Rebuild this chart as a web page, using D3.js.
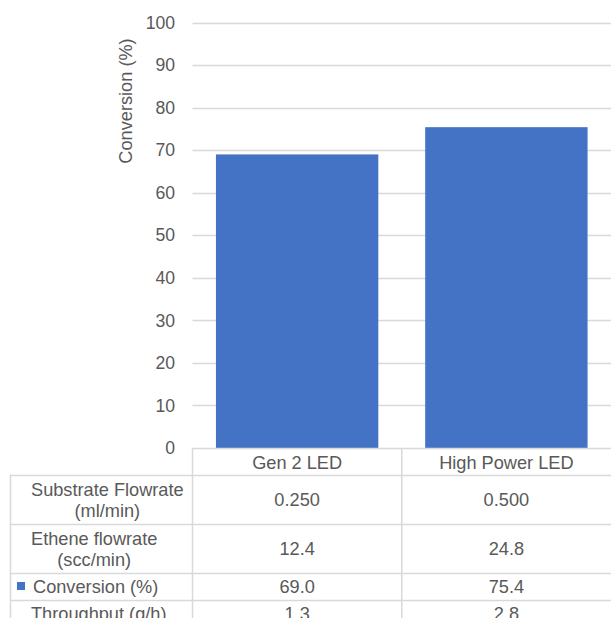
<!DOCTYPE html>
<html>
<head>
<meta charset="utf-8">
<script src="https://cdn.jsdelivr.net/npm/d3@7"></script>
<style>
  body { margin: 0; background: #fff; }
  text { font-family: "Liberation Sans", Arial, sans-serif; fill: #595959; }
</style>
</head>
<body>
<svg id="chart" width="611" height="618"></svg>
<script>
// chart data
var categories = ["Gen 2 LED", "High Power LED"];
var conversion = [69.0, 75.4];
var substrateFlow = [0.250, 0.500];
var etheneFlow = [12.4, 24.8];
var throughput = [1.3, 2.8];
var yTicks = [0, 10, 20, 30, 40, 50, 60, 70, 80, 90, 100];

// data table rows (label lines, values, format)
var tableRows = [
  { label: ["Substrate Flowrate", "(ml/min)"], values: substrateFlow, fmt: d3.format(".3f") },
  { label: ["Ethene flowrate", "(scc/min)"], values: etheneFlow, fmt: d3.format(".1f") },
  { label: ["Conversion (%)"], values: conversion, fmt: d3.format(".1f"), key: true },
  { label: ["Throughput (g/h)"], values: throughput, fmt: d3.format(".1f") }
];

var W = 611, H = 618;
var plotLeft = 192.5, plotRight = 611, plotTop = 22.5, plotBottom = 448;
var tableLeft = 10.5;
var barColor = "#4472c4", lineColor = "#d9d9d9";

var svg = d3.select("#chart");

var x = d3.scaleBand().domain(categories).range([plotLeft, plotRight])
  .paddingInner(0.224).paddingOuter(0.112);
var y = d3.scaleLinear().domain([0, 100]).range([plotBottom, plotTop]);

// gridlines
svg.append("g").selectAll("line")
  .data(yTicks.filter(function(d) { return d > 0; }))
  .enter().append("line")
  .attr("x1", plotLeft).attr("x2", plotRight)
  .attr("y1", function(d) { return Math.round(y(d)) + 0.5; })
  .attr("y2", function(d) { return Math.round(y(d)) + 0.5; })
  .attr("stroke", lineColor).attr("stroke-width", 1.3);

// tick labels
svg.append("g").selectAll("text")
  .data(yTicks)
  .enter().append("text")
  .attr("x", 175)
  .attr("y", function(d) { return y(d); })
  .attr("dy", "0.35em")
  .attr("text-anchor", "end")
  .attr("font-size", 17.6)
  .text(function(d) { return d; });

// axis title
svg.append("text")
  .attr("transform", "translate(132,101) rotate(-90)")
  .attr("text-anchor", "middle")
  .attr("font-size", 18.2)
  .text("Conversion (%)");

// bars
svg.append("g").selectAll("rect")
  .data(categories)
  .enter().append("rect")
  .attr("x", function(d) { return x(d); })
  .attr("width", x.bandwidth())
  .attr("y", function(d, i) { return y(conversion[i]); })
  .attr("height", function(d, i) { return y(0) - y(conversion[i]); })
  .attr("fill", barColor);

// data table
var table = svg.append("g");
var headerH = 26.5;
var rowY = [plotBottom + headerH];
tableRows.forEach(function(r) {
  rowY.push(rowY[rowY.length - 1] + (r.label.length > 1 ? 49 : 27));
});

function hline(x1, x2, yy) {
  table.append("line").attr("x1", x1).attr("x2", x2)
    .attr("y1", Math.round(yy) + 0.5).attr("y2", Math.round(yy) + 0.5)
    .attr("stroke", lineColor).attr("stroke-width", 1.5);
}
function vline(xx, y1, y2) {
  table.append("line").attr("x1", xx).attr("x2", xx)
    .attr("y1", y1).attr("y2", y2)
    .attr("stroke", lineColor).attr("stroke-width", 1.5);
}

hline(plotLeft, plotRight, plotBottom);
rowY.forEach(function(yy) { hline(tableLeft, plotRight, yy); });
vline(tableLeft, rowY[0], H + 20);
vline(plotLeft, plotBottom, H + 20);
vline(x(categories[1]) - x.step() * x.paddingInner() / 2, plotBottom, H + 20);

// header labels
table.selectAll(".head")
  .data(categories)
  .enter().append("text")
  .attr("class", "head")
  .attr("x", function(d) { return x(d) + x.bandwidth() / 2; })
  .attr("y", plotBottom + headerH / 2 + 1)
  .attr("dy", "0.35em")
  .attr("text-anchor", "middle")
  .attr("font-size", 18.2)
  .text(function(d) { return d; });

// rows
tableRows.forEach(function(r, i) {
  var cy = (rowY[i] + rowY[i + 1]) / 2 + 1;
  var n = r.label.length;
  var g = table.append("g");
  var left = r.key ? 33 : 31;
  var texts = g.selectAll("text")
    .data(r.label)
    .enter().append("text")
    .attr("y", function(d, j) { return cy + (j - (n - 1) / 2) * 21.5; })
    .attr("dy", "0.35em")
    .attr("text-anchor", "middle")
    .attr("font-size", 18.2)
    .text(function(d) { return d; });
  var maxW = 0;
  texts.each(function() { maxW = Math.max(maxW, this.getComputedTextLength()); });
  texts.attr("x", left + maxW / 2);
  if (r.key) {
    g.append("rect").attr("x", 17).attr("y", cy - 5).attr("width", 8).attr("height", 8)
      .attr("fill", barColor);
  }
  g.selectAll(".val")
    .data(r.values)
    .enter().append("text")
    .attr("class", "val")
    .attr("x", function(d, j) { return x(categories[j]) + x.bandwidth() / 2; })
    .attr("y", cy)
    .attr("dy", "0.35em")
    .attr("text-anchor", "middle")
    .attr("font-size", 18.2)
    .text(function(d) { return r.fmt(d); });
});
</script>
</body>
</html>
